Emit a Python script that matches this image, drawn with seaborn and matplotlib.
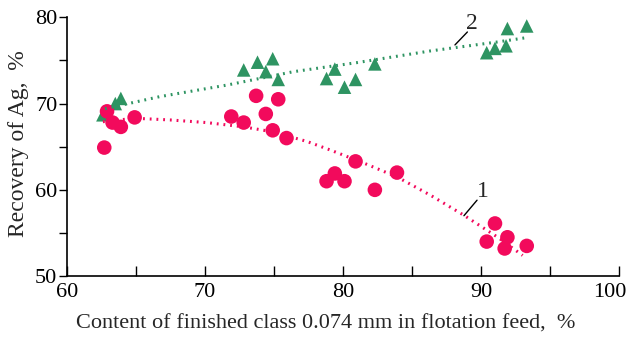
import numpy as np
import pandas as pd
import seaborn as sns
from matplotlib import pyplot as plt
from matplotlib.transforms import ScaledTranslation

# curve 1: recovery (circles)
x1 = [62.7, 62.9, 63.3, 63.9, 64.9, 71.9, 72.8, 73.7, 74.4, 75.3, 74.9, 75.9,
      78.8, 79.4, 80.1, 80.9, 82.3, 83.9, 90.4, 91.0, 91.9, 91.7, 93.3]
y1 = [64.9, 69.1, 67.8, 67.3, 68.4, 68.5, 67.8, 70.9, 68.8, 70.5, 66.9, 66.0,
      61.0, 61.9, 61.0, 63.3, 60.0, 62.0, 54.0, 56.1, 54.5, 53.2, 53.5]

# curve 2: recovery (triangles)
x2 = [62.6, 63.5, 63.9, 72.8, 73.8, 74.4, 74.9, 75.3, 78.8, 79.4, 80.1, 80.9,
      82.3, 90.4, 91.0, 91.8, 91.9, 93.3]
y2 = [68.7, 70.0, 70.6, 73.9, 74.8, 73.7, 75.2, 72.8, 72.9, 74.0, 71.9, 72.8,
      74.6, 75.9, 76.4, 76.7, 78.7, 79.0]

# trend lines
t1_x = [62.6, 64.9, 67.5, 70.1, 72.8, 75.0, 77.4, 79.1, 81.5, 83.9, 86.3, 88.7, 91.2, 93.0]
t1_y = [67.9, 68.3, 68.1, 67.8, 67.3, 66.7, 65.6, 64.6, 63.1, 61.5, 59.4, 57.1, 54.5, 52.4]
t2_x = [62.75, 66.7, 71.6, 76.4, 81.0, 86.3, 91.2, 93.3]
t2_y = [69.4, 70.8, 72.15, 73.7, 74.75, 76.1, 77.15, 77.65]

RED = "#f20a5c"
GREEN = "#2e9462"

sns.set_theme(style="ticks")
plt.rcParams["font.family"] = ["Liberation Serif", "DejaVu Serif"]

fig = plt.figure(figsize=(6.29, 3.4), dpi=100)
ax = fig.add_axes([0.1065, 0.188, 0.878, 0.761])

sns.lineplot(x=t2_x, y=t2_y, ax=ax, color=GREEN, lw=2.2, linestyle=(0, (0.6, 1.6)),
             sort=False, estimator=None)
sns.lineplot(x=t1_x, y=t1_y, ax=ax, color=RED, lw=2.2, linestyle=(0, (0.6, 1.6)),
             sort=False, estimator=None)
sns.scatterplot(x=x2, y=y2, ax=ax, marker="^", s=95, color=GREEN, edgecolor="none")
sns.scatterplot(x=x1, y=y1, ax=ax, marker="o", s=110, color=RED, edgecolor="none")

# curve labels with leader lines
ax.plot([88.1, 89.0], [76.8, 78.3], color="black", lw=1)
ax.text(89.3, 79.3, "2", fontsize=17, ha="center", va="center")
ax.plot([88.75, 89.7], [57.0, 58.8], color="black", lw=1)
ax.text(90.1, 59.8, "1", fontsize=17, ha="center", va="center")

ax.set_xlim(60, 100)
ax.set_ylim(50, 80)
ax.set_xticks(np.arange(60, 101, 5))
ax.set_xticklabels([str(v) if v % 10 == 0 else "" for v in range(60, 101, 5)])
ax.set_yticks(np.arange(50, 81, 5))
ax.set_yticklabels([str(v) if v % 10 == 0 else "" for v in range(50, 81, 5)])
ax.tick_params(axis="x", direction="in", length=7, width=1, labelsize=16, pad=5, colors="black")
ax.tick_params(axis="y", direction="out", length=6, width=1, labelsize=16, pad=1, colors="black")
for s in ["left", "bottom"]:
    ax.spines[s].set_color("black")
    ax.spines[s].set_linewidth(1.2)
sns.despine(ax=ax)

# last x label sits a little left of its tick, as in the original
last = ax.get_xticklabels()[-1]
last.set_transform(last.get_transform() + ScaledTranslation(-9 / 100, 0, fig.dpi_scale_trans))

ax.set_xlabel("Content of finished class 0.074 mm in flotation feed,  %", fontsize=16, labelpad=9)
ax.set_ylabel("Recovery of Ag,  %", fontsize=17, labelpad=4)
ax.xaxis.label.set_x(0.469)
ax.yaxis.label.set_y(0.51)

fig.savefig("out.png", dpi=100)
